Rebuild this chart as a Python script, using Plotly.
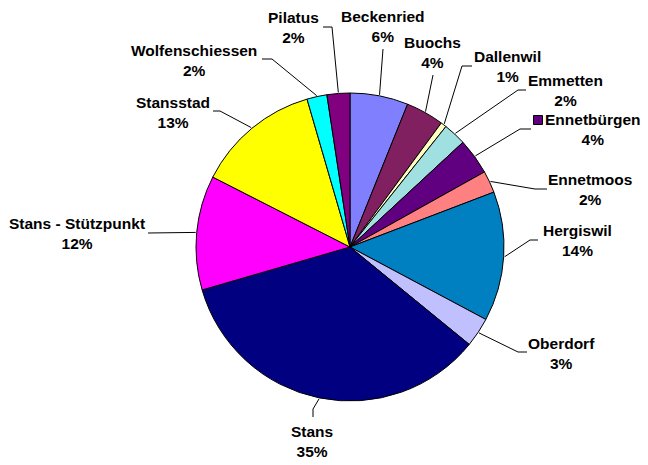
import math
import plotly.graph_objects as go

# ---------------- data ----------------
categories = ["Beckenried", "Buochs", "Dallenwil", "Emmetten", "Ennetbürgen",
              "Ennetmoos", "Hergiswil", "Oberdorf", "Stans", "Stans - Stützpunkt",
              "Stansstad", "Wolfenschiessen", "Pilatus"]
values = [6.1, 4.0, 0.6, 2.4, 3.8, 2.3, 13.6, 3.1, 34.6, 12.0, 13.0, 2.1, 2.4]

# ---------------- style ----------------
colors = ["#8080FF", "#802060", "#FFFFC0", "#A0E0E0", "#600080", "#FF8080",
          "#0080C0", "#C0C0FF", "#000080", "#FF00FF", "#FFFF00", "#00FFFF", "#800080"]

W, H = 648, 465
CX, CY, R = 350.0, 247.0, 154.0

# label block centres (px) and leader-line waypoints (px), per category
label_pos = {
    "Beckenried": (383, 26), "Buochs": (432, 52), "Dallenwil": (507, 66),
    "Emmetten": (565, 90), "Ennetbürgen": (593, 129), "Ennetmoos": (590, 189),
    "Hergiswil": (577, 240), "Oberdorf": (561, 353), "Stans": (312, 441),
    "Stans - Stützpunkt": (77, 233), "Stansstad": (173, 112),
    "Wolfenschiessen": (194, 60), "Pilatus": (293, 27),
}
leader_pts = {
    "Beckenried": [(383, 49)], "Buochs": [(433, 75)],
    "Dallenwil": [(462, 66), (472, 66)], "Emmetten": [(518, 90), (526, 90)],
    "Ennetbürgen": [(520, 129), (531, 129)], "Ennetmoos": [(535, 189), (547, 189)],
    "Hergiswil": [(530, 240), (538, 240)], "Oberdorf": [(518, 352), (527, 352)],
    "Stans": [(313, 409), (313, 417)], "Stans - Stützpunkt": [(158, 233), (148, 233)],
    "Stansstad": [(220, 111), (213, 111)], "Wolfenschiessen": [(272, 59), (262, 59)],
    "Pilatus": [(332, 27), (323, 27)],
}

total = sum(values)
pct_text = [f"{int(math.floor(v / total * 100 + 0.5))}%" for v in values]

fig = go.Figure()

fig.add_trace(go.Pie(
    values=values, labels=categories, sort=False, direction="clockwise", rotation=0,
    marker=dict(colors=colors, line=dict(color="black", width=1)),
    textinfo="none", hoverinfo="label+percent", showlegend=False,
    domain=dict(x=[(CX - R) / W, (CX + R) / W], y=[1 - (CY + R) / H, 1 - (CY - R) / H]),
))

# leader lines from each slice's mid-angle on the pie edge
cum = 0.0
annotations = []
for name, v, pt in zip(categories, values, pct_text):
    mid = (cum + v / 2) / total
    cum += v
    th = 2 * math.pi * mid
    sx = CX + (R + 1) * math.sin(th)
    sy = CY - (R + 1) * math.cos(th)
    pts = [(sx, sy)] + leader_pts[name]
    fig.add_trace(go.Scatter(
        x=[p[0] for p in pts], y=[p[1] for p in pts], mode="lines",
        line=dict(color="black", width=1), hoverinfo="skip", showlegend=False,
        xaxis="x", yaxis="y",
    ))
    lx, ly = label_pos[name]
    annotations.append(dict(
        x=lx, y=ly, xref="x", yref="y", showarrow=False,
        text=f"<b>{name}<br>{pt}</b>", align="center",
        xanchor="center", yanchor="middle",
        font=dict(family="Liberation Sans, Arial, sans-serif", size=15.5, color="black"),
    ))

# legend key in front of the Ennetbürgen label
ex, ey = label_pos["Ennetbürgen"]
fig.add_trace(go.Scatter(
    x=[ex - 55], y=[ey - 9], mode="markers",
    marker=dict(symbol="square", size=9, color=colors[categories.index("Ennetbürgen")],
                line=dict(color="black", width=1)),
    hoverinfo="skip", showlegend=False, xaxis="x", yaxis="y",
))

fig.update_layout(
    width=W, height=H, margin=dict(l=0, r=0, t=0, b=0),
    paper_bgcolor="white", plot_bgcolor="rgba(0,0,0,0)",
    xaxis=dict(range=[0, W], visible=False, fixedrange=True, domain=[0, 1]),
    yaxis=dict(range=[H, 0], visible=False, fixedrange=True, domain=[0, 1]),
    annotations=annotations, showlegend=False,
)

fig.write_html("out.html", config=dict(displayModeBar=False),
               post_script="document.body.style.margin='0';document.body.style.overflow='hidden';")
